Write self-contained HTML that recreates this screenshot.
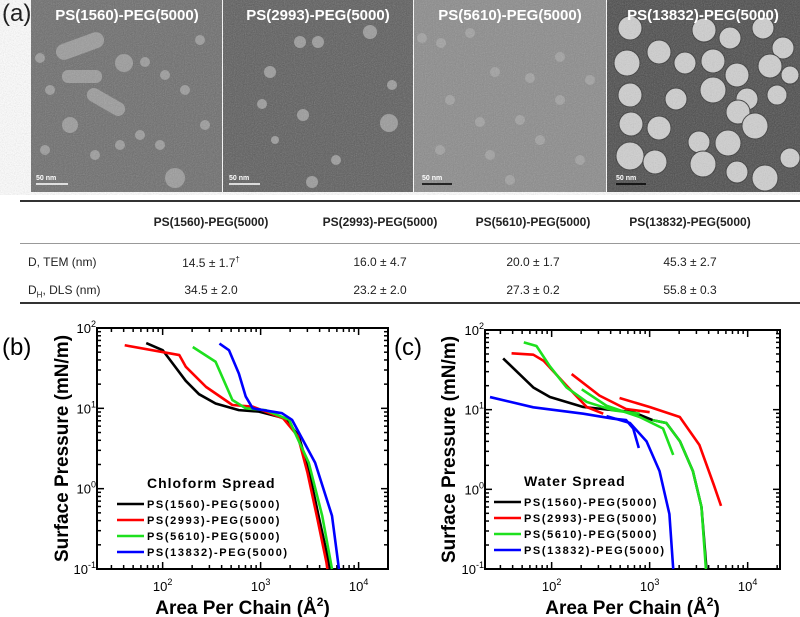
<!DOCTYPE html>
<html><head><meta charset="utf-8">
<style>
body{margin:0;width:800px;height:617px;background:#fff;overflow:hidden;position:relative;font-family:"Liberation Sans",sans-serif}
.abs{position:absolute;white-space:nowrap}
</style></head><body>
<div class="abs" style="left:2px;top:0px;font-size:24px">(a)</div>
<svg class="abs" style="left:0;top:0" width="800" height="195">
<defs>
<filter id="nz"><feTurbulence type="fractalNoise" baseFrequency="0.9" numOctaves="2" seed="3"/><feColorMatrix type="saturate" values="0"/><feComponentTransfer><feFuncA type="table" tableValues="0 0.35"/></feComponentTransfer></filter>
</defs>
<rect x="31" y="0" width="191" height="192" fill="#6c6c6c"/>
<rect x="223" y="0" width="190" height="192" fill="#5c5c5c"/>
<rect x="414" y="0" width="192" height="192" fill="#8a8a8a"/>
<rect x="607" y="0" width="193" height="192" fill="#4a4a4a"/>
<g fill="#9a9a9a">
<rect x="55" y="38" width="50" height="16" rx="8" transform="rotate(-20 80 46)"/>
<rect x="62" y="70" width="40" height="13" rx="6"/>
<rect x="85" y="95" width="42" height="14" rx="7" transform="rotate(30 106 102)"/>
<circle cx="124" cy="63" r="9"/><circle cx="145" cy="62" r="5"/><circle cx="40" cy="58" r="5"/><circle cx="50" cy="90" r="5"/><circle cx="165" cy="75" r="5"/><circle cx="185" cy="90" r="5"/><circle cx="140" cy="135" r="5"/><circle cx="160" cy="145" r="5"/><circle cx="120" cy="145" r="5"/><circle cx="70" cy="125" r="8"/><circle cx="200" cy="40" r="5"/><circle cx="95" cy="155" r="5"/><circle cx="45" cy="150" r="5"/><circle cx="175" cy="178" r="10"/><circle cx="205" cy="125" r="5"/>
<circle cx="300" cy="42" r="6"/><circle cx="318" cy="42" r="6"/><circle cx="270" cy="72" r="6"/><circle cx="303" cy="115" r="6"/><circle cx="262" cy="104" r="5"/><circle cx="370" cy="32" r="7"/><circle cx="392" cy="85" r="5"/><circle cx="389" cy="123" r="9"/><circle cx="336" cy="160" r="5"/><circle cx="312" cy="182" r="6"/><circle cx="275" cy="140" r="4"/>
</g>
<g fill="#a0a0a0">
<circle cx="422" cy="38" r="5"/><circle cx="441" cy="43" r="5"/><circle cx="470" cy="33" r="5"/><circle cx="495" cy="72" r="5"/><circle cx="530" cy="78" r="5"/><circle cx="560" cy="57" r="5"/><circle cx="450" cy="100" r="5"/><circle cx="480" cy="122" r="5"/><circle cx="520" cy="120" r="5"/><circle cx="560" cy="100" r="5"/><circle cx="440" cy="150" r="5"/><circle cx="490" cy="155" r="5"/><circle cx="540" cy="140" r="5"/><circle cx="580" cy="160" r="5"/><circle cx="510" cy="180" r="5"/><circle cx="590" cy="80" r="5"/>
</g>
<g fill="#cfcfcf" stroke="#333" stroke-width="1">
<circle cx="630" cy="28" r="12"/><circle cx="659" cy="52" r="12"/><circle cx="685" cy="63" r="11"/><circle cx="704" cy="30" r="12"/><circle cx="730" cy="38" r="11"/><circle cx="763" cy="28" r="11"/><circle cx="783" cy="48" r="11"/><circle cx="627" cy="63" r="13"/><circle cx="713" cy="61" r="12"/><circle cx="737" cy="75" r="12"/><circle cx="770" cy="66" r="12"/><circle cx="790" cy="75" r="9"/><circle cx="630" cy="95" r="12"/><circle cx="676" cy="99" r="11"/><circle cx="713" cy="90" r="13"/><circle cx="747" cy="99" r="11"/><circle cx="777" cy="95" r="10"/><circle cx="738" cy="112" r="12"/><circle cx="631" cy="124" r="12"/><circle cx="659" cy="128" r="12"/><circle cx="699" cy="142" r="11"/><circle cx="728" cy="143" r="13"/><circle cx="755" cy="126" r="13"/><circle cx="630" cy="156" r="14"/><circle cx="655" cy="162" r="12"/><circle cx="703" cy="164" r="13"/><circle cx="737" cy="172" r="11"/><circle cx="765" cy="178" r="13"/><circle cx="790" cy="158" r="10"/>
</g>
<rect x="31" y="0" width="769" height="192" filter="url(#nz)"/>
<g fill="#fff" font-weight="bold" font-size="15" text-anchor="middle" font-family="Liberation Sans, sans-serif">
<text x="127" y="20">PS(1560)-PEG(5000)</text>
<text x="318" y="20">PS(2993)-PEG(5000)</text>
<text x="510" y="20">PS(5610)-PEG(5000)</text>
<text x="703" y="20">PS(13832)-PEG(5000)</text>
</g>
<g font-size="7" font-weight="bold" fill="#fff"><text x="36" y="180">50 nm</text><text x="229" y="180">50 nm</text><text x="422" y="180">50 nm</text><text x="616" y="180">50 nm</text></g>
<g stroke="#fff" stroke-width="1.5"><line x1="36" y1="184" x2="68" y2="184"/><line x1="229" y1="184" x2="260" y2="184"/></g>
<g stroke="#000" stroke-width="1.5"><line x1="422" y1="184" x2="452" y2="184"/><line x1="616" y1="184" x2="646" y2="184"/></g>
</svg>
<div class="abs" style="left:20px;top:200px;width:780px;border-top:2px solid #333"></div>
<div class="abs" style="left:20px;top:243px;width:780px;border-top:1px solid #999"></div>
<div class="abs" style="left:20px;top:302px;width:780px;border-top:2px solid #333"></div>
<div class="abs" style="left:0;top:0;font-size:12px;color:#222">
<div class="abs" style="left:146px;top:215px;width:130px;text-align:center;font-weight:bold">PS(1560)-PEG(5000)</div>
<div class="abs" style="left:315px;top:215px;width:130px;text-align:center;font-weight:bold">PS(2993)-PEG(5000)</div>
<div class="abs" style="left:468px;top:215px;width:130px;text-align:center;font-weight:bold">PS(5610)-PEG(5000)</div>
<div class="abs" style="left:620px;top:215px;width:140px;text-align:center;font-weight:bold">PS(13832)-PEG(5000)</div>
<div class="abs" style="left:28px;top:255px">D, TEM (nm)</div>
<div class="abs" style="left:28px;top:283px">D<sub style="font-size:8px">H</sub>, DLS (nm)</div>
<div class="abs" style="left:146px;top:255px;width:130px;text-align:center">14.5 ± 1.7<sup style="font-size:8px">†</sup></div>
<div class="abs" style="left:315px;top:255px;width:130px;text-align:center">16.0 ± 4.7</div>
<div class="abs" style="left:468px;top:255px;width:130px;text-align:center">20.0 ± 1.7</div>
<div class="abs" style="left:620px;top:255px;width:140px;text-align:center">45.3 ± 2.7</div>
<div class="abs" style="left:146px;top:283px;width:130px;text-align:center">34.5 ± 2.0</div>
<div class="abs" style="left:315px;top:283px;width:130px;text-align:center">23.2 ± 2.0</div>
<div class="abs" style="left:468px;top:283px;width:130px;text-align:center">27.3 ± 0.2</div>
<div class="abs" style="left:620px;top:283px;width:140px;text-align:center">55.8 ± 0.3</div>
</div>
<svg id="charts" class="abs" style="left:0;top:0" width="800" height="617"></svg>
<script>
// Panel (b) chloroform spread: area (Å²) and surface pressure (mN/m)
const bBlackX=[68,100,127,172,235,347,600,960,1780,2450,3100,3900,4900,5100];
const bBlackY=[65,53,36,22,15,11.5,9.5,9.1,7.5,4.5,1.7,0.46,0.13,0.1];
const bRedX=[41,148,172,277,515,830,1700,2400,3000,3800,4700,4800];
const bRedY=[61,46,33,18.5,11,10.5,7.5,4.5,1.6,0.42,0.12,0.1];
const bGreenX=[203,347,515,705,1120,1950,3100,4250,5350];
const bGreenY=[58,38,12.7,10,9.5,7.2,2.1,0.46,0.1];
const bBlueX=[380,475,600,705,830,1650,2090,3600,5350,6300];
const bBlueY=[64,53,27,14,10,8.7,7.2,2.1,0.46,0.1];
// Panel (c) water spread
const cBlackX=[32,65,96,210,680,1070,1480,2040,2760,3380,3800];
const cBlackY=[44,19,14.4,10.8,9.3,7.4,6.8,4,1.7,0.6,0.1];
const cRed1X=[39,65,83,142,228,336];
const cRed1Y=[51,49,41,20,10.8,8.9];
const cRed2X=[160,308,575,1000];
const cRed2Y=[28,15,10.2,9.3];
const cRed3X=[493,1000,2030,3220,4500,5350];
const cRed3Y=[14,10.8,8.1,3.6,1.15,0.62];
const cGreen1X=[52,70,96,142,228,425,790];
const cGreen1Y=[70,63,35,19,12.5,9.8,8.9];
const cGreen2X=[203,363,790,1370,1740];
const cGreen2Y=[18,11.2,8.1,5.8,2.7];
const cGreen3X=[1070,1480,2040,2760,3380,3750];
const cGreen3Y=[7.4,6.8,4,1.7,0.6,0.1];
const cBlue1X=[23.5,65,210,425,575,680,775];
const cBlue1Y=[14.4,10.7,8.9,7.7,7.4,5.8,3.3];
const cBlue2X=[363,630,930,1260,1590,1740];
const cBlue2Y=[8.3,6.8,4,1.7,0.49,0.1];
const legendLabels=["PS(1560)-PEG(5000)","PS(2993)-PEG(5000)","PS(5610)-PEG(5000)","PS(13832)-PEG(5000)"];
const xTickExp=[2,3,4];
const yTickExp=[-1,0,1,2];

const NS="http://www.w3.org/2000/svg";
const svg=document.getElementById('charts');
function mk(tag,attrs,parent){const e=document.createElementNS(NS,tag);for(const k in attrs)e.setAttribute(k,attrs[k]);(parent||svg).appendChild(e);return e;}
const COL=["#000","#ff0000","#1ee01e","#0000ff"];

function chart(o){
  const g=mk('g',{});
  
  
  const sx=v=>o.L+(Math.log10(v)-o.x0)/(o.x1-o.x0)*(o.R-o.L);
  const sy=v=>o.B-(Math.log10(v)-o.y0)/(o.y1-o.y0)*(o.B-o.T);
  for(let e=1;e<=4;e++)for(let m=1;m<10;m++){
    const v=m*Math.pow(10,e);const x=sx(v);if(x<o.L||x>o.R)continue;const len=m==1?7:4;
    mk('line',{x1:x,x2:x,y1:o.B,y2:o.B-len,stroke:'#000','stroke-width':1.5},g);
    mk('line',{x1:x,x2:x,y1:o.T,y2:o.T+len,stroke:'#000','stroke-width':1.5},g);
  }
  for(let e=-1;e<2;e++)for(let m=1;m<10;m++){
    const v=m*Math.pow(10,e);const y=sy(v);const len=m==1?7:4;
    mk('line',{x1:o.L,x2:o.L+len,y1:y,y2:y,stroke:'#000','stroke-width':1.5},g);
    mk('line',{x1:o.R,x2:o.R-len,y1:y,y2:y,stroke:'#000','stroke-width':1.5},g);
  }
  mk('rect',{x:o.L,y:o.T,width:o.R-o.L,height:o.B-o.T,fill:'none',stroke:'#000','stroke-width':2},g);
  xTickExp.forEach(e=>{
    const t=mk('text',{x:sx(Math.pow(10,e)),y:o.B+22,'text-anchor':'middle','font-size':13,'font-family':'Liberation Sans, sans-serif'},g);
    
    
    t.innerHTML='10<tspan dy="-6" font-size="9">'+e+'</tspan>';
  });
  yTickExp.forEach(e=>{
    const t=mk('text',{x:o.L-1,y:sy(Math.pow(10,e))+5,'text-anchor':'end','font-size':13,'font-family':'Liberation Sans, sans-serif'},g);
    
    
    t.innerHTML='10<tspan dy="-6" font-size="9">'+e+'</tspan>';
  });
  o.series.forEach(s=>{
    const p=mk('polyline',{points:s.x.map((v,i)=>sx(v)+','+sy(s.y[i])).join(' '),fill:'none',stroke:COL[s.c],'stroke-width':2.6,'stroke-linejoin':'round'},g);
    
    
  });
  const yt=mk('text',{x:0,y:0,transform:`translate(${o.ytx},${(o.T+o.B)/2}) rotate(-90)`,'text-anchor':'middle','font-size':19,'font-weight':'bold','font-family':'Liberation Sans, sans-serif'},g);
  
  
  yt.textContent='Surface Pressure (mN/m)';
  const xt=mk('text',{x:(o.L+o.R)/2,y:614,'text-anchor':'middle','font-size':19,'font-weight':'bold','font-family':'Liberation Sans, sans-serif'},g);
  
  
  xt.innerHTML='Area Per Chain (Å<tspan dy="-8" font-size="12">2</tspan><tspan dy="8">)</tspan>';
  const lt=mk('text',{x:o.lgx+30,y:o.lgy,'font-size':14,'font-weight':'bold','letter-spacing':'1','font-family':'Liberation Sans, sans-serif'},g);
  
  
  lt.textContent=o.lgTitle;
  legendLabels.forEach((lab,i)=>{
    const y=o.lgy+20+i*16;
    const ln=mk('line',{x1:o.lgx,x2:o.lgx+27,y1:y-4,y2:y-4,stroke:COL[i],'stroke-width':2.6},g);
    
    
    const t=mk('text',{x:o.lgx+30,y:y,'font-size':11,'font-weight':'bold','letter-spacing':'1.6','font-family':'Liberation Sans, sans-serif'},g);
    
    
    t.textContent=lab;
  });
  const pl=mk('text',{x:o.plx,y:355,'font-size':24,'font-family':'Liberation Sans, sans-serif'},g);
  
  
  pl.textContent=o.pl;
}
chart({name:'chart-chloroform-spread',L:97,R:388,T:328,B:569,x0:1.33,x1:4.30,y0:-1,y1:2,ytx:68,lgx:117,lgy:488,lgTitle:'Chloform Spread',plx:2,pl:'(b)',
 series:[{x:bBlackX,y:bBlackY,c:0,n:'series-1560'},{x:bRedX,y:bRedY,c:1,n:'series-2993'},{x:bGreenX,y:bGreenY,c:2,n:'series-5610'},{x:bBlueX,y:bBlueY,c:3,n:'series-13832'}]});
chart({name:'chart-water-spread',L:485,R:780,T:330,B:569,x0:1.32,x1:4.33,y0:-1,y1:2,ytx:455,lgx:494,lgy:486,lgTitle:'Water Spread',plx:394,pl:'(c)',
 series:[{x:cBlackX,y:cBlackY,c:0,n:'series-1560'},{x:cRed1X,y:cRed1Y,c:1,n:'series-2993-a'},{x:cRed2X,y:cRed2Y,c:1,n:'series-2993-b'},{x:cRed3X,y:cRed3Y,c:1,n:'series-2993-c'},{x:cGreen1X,y:cGreen1Y,c:2,n:'series-5610-a'},{x:cGreen2X,y:cGreen2Y,c:2,n:'series-5610-b'},{x:cGreen3X,y:cGreen3Y,c:2,n:'series-5610-c'},{x:cBlue1X,y:cBlue1Y,c:3,n:'series-13832-a'},{x:cBlue2X,y:cBlue2Y,c:3,n:'series-13832-b'}]});
</script>
</body></html>
